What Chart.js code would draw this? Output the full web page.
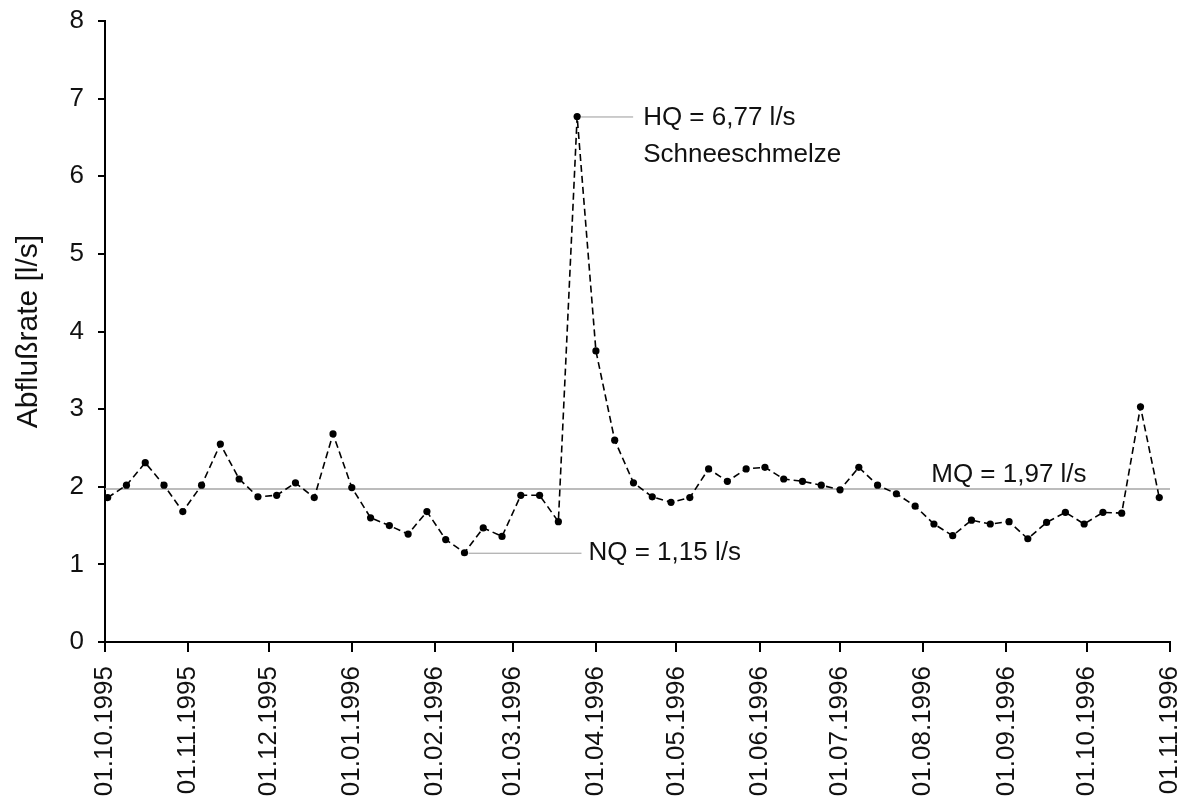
<!DOCTYPE html>
<html>
<head>
<meta charset="utf-8">
<title>Abflußrate</title>
<script src="https://cdn.jsdelivr.net/npm/chart.js@4/dist/chart.umd.min.js"></script>
<style>
  body { margin: 0; background: #fff; }
  #wrap { width: 1189px; height: 803px; }
</style>
</head>
<body>
<div id="wrap"><canvas id="chart" width="1189" height="803"></canvas></div>
<script>
var dates = [
  '02.10.1995','09.10.1995','16.10.1995','23.10.1995','30.10.1995',
  '06.11.1995','13.11.1995','20.11.1995','27.11.1995',
  '04.12.1995','11.12.1995','18.12.1995','25.12.1995',
  '01.01.1996','08.01.1996','15.01.1996','22.01.1996','29.01.1996',
  '05.02.1996','12.02.1996','19.02.1996','26.02.1996',
  '04.03.1996','11.03.1996','18.03.1996','25.03.1996',
  '01.04.1996','08.04.1996','15.04.1996','22.04.1996','29.04.1996',
  '06.05.1996','13.05.1996','20.05.1996','27.05.1996',
  '03.06.1996','10.06.1996','17.06.1996','24.06.1996',
  '01.07.1996','08.07.1996','15.07.1996','22.07.1996','29.07.1996',
  '05.08.1996','12.08.1996','19.08.1996','26.08.1996',
  '02.09.1996','09.09.1996','16.09.1996','23.09.1996','30.09.1996',
  '07.10.1996','14.10.1996','21.10.1996','28.10.1996'
];
var abfluss = [
  1.86, 2.02, 2.31, 2.02, 1.68,
  2.02, 2.55, 2.10, 1.87,
  1.89, 2.05, 1.86, 2.68,
  1.99, 1.60, 1.50, 1.39, 1.68,
  1.32, 1.15, 1.47, 1.36,
  1.89, 1.89, 1.55, 6.77,
  3.75, 2.60, 2.05, 1.87, 1.80,
  1.86, 2.23, 2.07, 2.23,
  2.25, 2.10, 2.07, 2.02,
  1.96, 2.25, 2.02, 1.91, 1.75,
  1.52, 1.37, 1.57, 1.52,
  1.55, 1.33, 1.54, 1.67, 1.52,
  1.67, 1.66, 3.03, 1.86
];
var monthTicks = [
  '01.10.1995','01.11.1995','01.12.1995','01.01.1996','01.02.1996','01.03.1996','01.04.1996',
  '01.05.1996','01.06.1996','01.07.1996','01.08.1996','01.09.1996','01.10.1996','01.11.1996'
];
var yTicks = [0, 1, 2, 3, 4, 5, 6, 7, 8];
var mqValue = [1.97];
var hqText = ['HQ = 6,77 l/s', 'Schneeschmelze'];
var nqText = ['NQ = 1,15 l/s'];
var mqText = ['MQ = 1,97 l/s'];

var FONT = '"Liberation Sans", Arial, sans-serif';

// days since 01.10.1995
function toDay(s) {
  var p = s.split('.');
  var t = Date.UTC(+p[2], +p[1] - 1, +p[0]);
  return Math.round((t - Date.UTC(1995, 9, 1)) / 86400000);
}

var points = [];
for (var i = 0; i < dates.length; i++) {
  points.push({ x: toDay(dates[i]), y: abfluss[i] });
}
var xMin = toDay(monthTicks[0]);
var xMax = toDay(monthTicks[monthTicks.length - 1]);
var mqLine = [{ x: xMin, y: mqValue[0] }, { x: xMax, y: mqValue[0] }];

// leader lines + texts for HQ, NQ, MQ
var labelPlugin = {
  id: 'qlabels',
  afterDatasetsDraw: function (chart) {
    var ctx = chart.ctx;
    var xs = chart.scales.x, ys = chart.scales.y;
    var iMax = abfluss.indexOf(Math.max.apply(null, abfluss));
    var iMin = abfluss.indexOf(Math.min.apply(null, abfluss));
    ctx.save();
    ctx.strokeStyle = '#9a9a9a';
    ctx.lineWidth = 1;
    ctx.fillStyle = '#111';
    ctx.font = '26px ' + FONT;
    ctx.textBaseline = 'middle';
    ctx.textAlign = 'left';

    var hx = xs.getPixelForValue(points[iMax].x), hy = ys.getPixelForValue(points[iMax].y);
    ctx.beginPath();
    ctx.moveTo(hx + 4, hy + 0.5);
    ctx.lineTo(hx + 56, hy + 0.5);
    ctx.stroke();
    ctx.fillText(hqText[0], hx + 66, hy + 1);
    ctx.fillText(hqText[1], hx + 66, hy + 38);

    var nx = xs.getPixelForValue(points[iMin].x), ny = ys.getPixelForValue(points[iMin].y);
    ctx.beginPath();
    ctx.moveTo(nx + 4, ny + 0.5);
    ctx.lineTo(nx + 117, ny + 0.5);
    ctx.stroke();
    ctx.fillText(nqText[0], nx + 124, ny);

    var my = ys.getPixelForValue(mqValue[0]);
    ctx.fillText(mqText[0], xs.getPixelForValue(308), my - 14);
    ctx.restore();
  }
};

var ctx = document.getElementById('chart').getContext('2d');
var chart = new Chart(ctx, {
  type: 'line',
  data: {
    datasets: [{
      label: 'Abfluß',
      data: points,
      borderColor: '#000',
      borderWidth: 1.6,
      borderDash: [7, 4],
      pointRadius: 3.6,
      pointBackgroundColor: '#000',
      pointBorderWidth: 0,
      tension: 0
    }, {
      label: 'MQ',
      data: mqLine,
      borderColor: '#a6a6a6',
      borderWidth: 1.5,
      pointRadius: 0
    }]
  },
  options: {
    responsive: false,
    animation: false,
    layout: { padding: { top: 21, right: 19, left: 0, bottom: 0 } },
    plugins: {
      legend: { display: false },
      tooltip: { enabled: false }
    },
    scales: {
      x: {
        type: 'linear',
        min: xMin,
        max: xMax,
        afterFit: function (s) {
          s.height = 161;
          s.paddingLeft = 0;
          s.paddingRight = 0;
        },
        afterBuildTicks: function (s) {
          s.ticks = monthTicks.map(function (d) { return { value: toDay(d) }; });
        },
        grid: { drawOnChartArea: false, drawTicks: true, tickLength: 10, color: '#000', lineWidth: 2 },
        border: { display: true, color: '#000', width: 2 },
        ticks: {
          autoSkip: false,
          maxRotation: 90,
          minRotation: 90,
          padding: 14,
          color: '#111',
          font: { family: FONT, size: 26 },
          callback: function (v) {
            for (var k = 0; k < monthTicks.length; k++) {
              if (toDay(monthTicks[k]) === v) return monthTicks[k];
            }
            return '';
          }
        }
      },
      y: {
        min: yTicks[0],
        max: yTicks[yTicks.length - 1],
        afterFit: function (s) {
          s.width = 105;
          s.paddingTop = 0;
          s.paddingBottom = 0;
        },
        afterBuildTicks: function (s) {
          s.ticks = yTicks.map(function (v) { return { value: v }; });
        },
        grid: { drawOnChartArea: false, drawTicks: true, tickLength: 7, color: '#000', lineWidth: 2 },
        border: { display: true, color: '#000', width: 2 },
        ticks: {
          padding: 14,
          color: '#111',
          font: { family: FONT, size: 26 }
        },
        title: {
          display: true,
          text: 'Abflußrate [l/s]',
          color: '#111',
          font: { family: FONT, size: 30 },
          padding: { top: 11, bottom: 0 }
        }
      }
    }
  },
  plugins: [labelPlugin]
});
</script>
</body>
</html>
